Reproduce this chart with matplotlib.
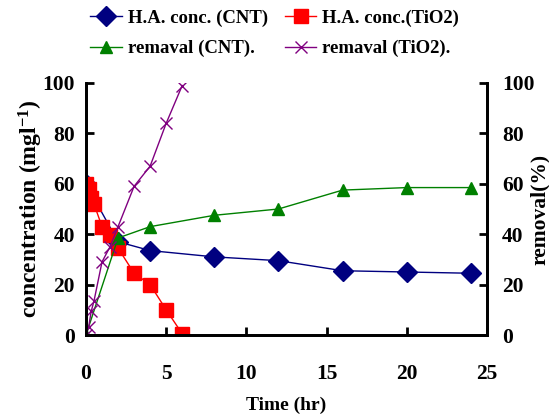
import matplotlib
matplotlib.use("Agg")
import matplotlib.pyplot as plt

plt.rcParams['font.family'] = ['Liberation Serif', 'DejaVu Serif']
plt.rcParams['font.weight'] = 'bold'
plt.rcParams['mathtext.fontset'] = 'custom'
plt.rcParams['mathtext.rm'] = 'Liberation Serif:bold'
plt.rcParams['mathtext.it'] = 'Liberation Serif:bold'

# H.A. concentration, CNT
t_cnt = [0, 2, 4, 8, 12, 16, 20, 24]
conc_cnt = [60, 37, 33.5, 31, 29.5, 25.5, 25, 24.5]
rem_cnt = [0, 38.5, 43, 47.5, 50, 57.5, 58.5, 58.5]

# H.A. concentration, TiO2
t_tio2 = [0, 0.17, 0.33, 0.5, 1, 1.5, 2, 3, 4, 5, 6]
conc_tio2 = [60, 58, 54.5, 52, 43, 39.5, 34.5, 24.5, 20, 10, 0.5]
rem_tio2 = [0, 3.3, 9.5, 13.5, 29, 35, 43, 59, 67, 84, 99]

fig = plt.figure(figsize=(5.49, 4.16), dpi=100)
ax = fig.add_axes([0.1566, 0.1947, 0.7304, 0.6058])
ax2 = ax.twinx()

l1, = ax.plot(t_cnt, conc_cnt, color='#000080', marker='D', markersize=10, lw=1, label='H.A. conc. (CNT)')
l2, = ax.plot(t_tio2, conc_tio2, color='#ff0000', marker='s', markersize=9.5, lw=1, label='H.A. conc.(TiO2)')
l3, = ax2.plot(t_cnt, rem_cnt, color='#008000', marker='^', markersize=9, lw=1, label='remaval (CNT).')
l4, = ax2.plot(t_tio2, rem_tio2, color='#800080', marker='x', markersize=9, mew=1, lw=1, label='remaval (TiO2).')

for a in (ax, ax2):
    a.set_xlim(0, 25)
    a.set_ylim(0, 100)
    a.spines['top'].set_visible(False)
    for s in ('left', 'right', 'bottom'):
        a.spines[s].set_linewidth(2)
    a.tick_params(direction='in', length=6, width=2, labelsize=15.5)

ax.set_xticks(range(0, 26, 5))
ax.set_yticks(range(0, 101, 20))
ax2.set_yticks(range(0, 101, 20))
ax.tick_params(axis='x', pad=21)
ax.tick_params(axis='y', pad=8)
ax2.tick_params(axis='y', pad=11)

ax.set_xlabel('Time (hr)', fontsize=14, fontweight='bold', labelpad=9)
ax.set_ylabel('concentration (mgl$^{-1}$)', fontsize=17, fontweight='bold', labelpad=-2)
ax2.set_ylabel('removal(%)', fontsize=15.5, fontweight='bold', labelpad=-3.5)

fig.legend(handles=[l1, l3, l2, l4], ncol=2, loc='upper center', bbox_to_anchor=(0.5, 1.018),
           frameon=False, columnspacing=0.9, handlelength=1.7,
           handletextpad=0.3, labelspacing=0.7, prop={'weight': 'bold', 'size': 13.5})

fig.savefig('out.png', dpi=100)
